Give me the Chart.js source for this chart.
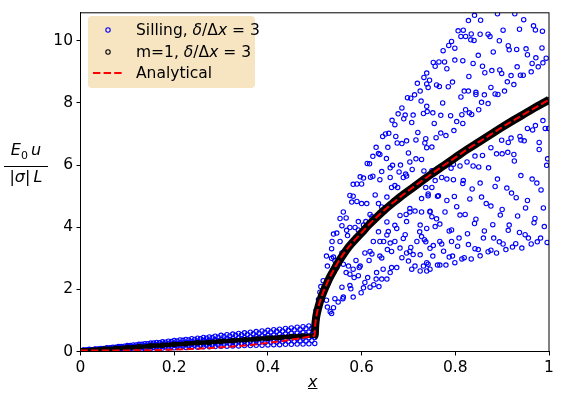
<!DOCTYPE html>
<html>
<head>
<meta charset="utf-8">
<script src="https://cdn.jsdelivr.net/npm/chart.js@4.4.1/dist/chart.umd.min.js"></script>
<style>
  body { margin: 0; background: #fff; }
  #wrap { position: relative; width: 562px; height: 393px; font-family: "DejaVu Sans", sans-serif; }
  #legend {
    position: absolute; left: 88px; top: 16px; width: 167px; height: 72px;
    background: #f7e5c2; border-radius: 4px; font-size: 15.5px; color: #000;
  }
  .row { position: absolute; left: 0; height: 20px; line-height: 20px; white-space: nowrap; }
  .row span.t { position: absolute; left: 48px; top: 0; }
  .row svg { position: absolute; left: 0; top: 0; }
  #ylab { position: absolute; left: 4px; top: 141px; width: 44px; text-align: center; font-size: 16px; }
  #ylab .num { border-bottom: 1px solid #000; padding-bottom: 1px; line-height: 18px; }
  #ylab .den { line-height: 18px; padding-top: 1px; }
  #xlab { position: absolute; left: 308px; top: 372px; font-size: 16px; font-style: italic; text-decoration: underline; }
</style>
</head>
<body>
<div id="wrap">
  <canvas id="plot" width="562" height="393"></canvas>
  <div id="legend">
    <div class="row" style="top:4px;width:167px">
      <svg width="40" height="20"><circle cx="20" cy="10" r="2.2" fill="none" stroke="#0000ff" stroke-width="1.1"/></svg>
      <span class="t">Silling, <i>δ</i>/Δ<i>x</i> = 3</span>
    </div>
    <div class="row" style="top:25.5px;width:167px">
      <svg width="40" height="20"><circle cx="20" cy="10" r="2.2" fill="none" stroke="#000" stroke-width="1.1"/></svg>
      <span class="t">m=1, <i>δ</i>/Δ<i>x</i> = 3</span>
    </div>
    <div class="row" style="top:47px;width:167px">
      <svg width="40" height="20"><line x1="5" y1="10" x2="35" y2="10" stroke="#ff0000" stroke-width="2" stroke-dasharray="7.4 3.2"/></svg>
      <span class="t">Analytical</span>
    </div>
  </div>
  <div id="ylab">
    <div class="num"><i>E</i><sub style="font-size:11px">0</sub>&thinsp;<i>u</i></div>
    <div class="den">|<i>σ</i>|&thinsp;<i>L</i></div>
  </div>
  <div id="xlab">x</div>
</div>
<script>
// Silling, x < 0.5: dense band of nodes, rows
const silLeftX = [0.0125, 0.025, 0.0375, 0.05, 0.0625, 0.075, 0.0875, 0.1, 0.1125, 0.125,
  0.1375, 0.15, 0.1625, 0.175, 0.1875, 0.2, 0.2125, 0.225, 0.2375, 0.25,
  0.2625, 0.275, 0.2875, 0.3, 0.3125, 0.325, 0.3375, 0.35, 0.3625, 0.375,
  0.3875, 0.4, 0.4125, 0.425, 0.4375, 0.45, 0.4625, 0.475, 0.4875, 0.5]
const silLeftUp = [0.04, 0.06, 0.08, 0.10, 0.12, 0.14, 0.16, 0.19, 0.21, 0.23,
  0.25, 0.27, 0.29, 0.31, 0.33, 0.35, 0.37, 0.39, 0.41, 0.43,
  0.45, 0.47, 0.49, 0.52, 0.54, 0.56, 0.58, 0.60, 0.62, 0.64,
  0.66, 0.68, 0.70, 0.72, 0.74, 0.76, 0.78, 0.80, 0.82, 0.85]
const silLeftMidHi = [0.04, 0.05, 0.07, 0.08, 0.10, 0.11, 0.13, 0.15, 0.16, 0.18,
  0.19, 0.21, 0.22, 0.24, 0.25, 0.27, 0.28, 0.30, 0.31, 0.33,
  0.35, 0.36, 0.38, 0.39, 0.41, 0.42, 0.44, 0.45, 0.47, 0.48,
  0.50, 0.52, 0.53, 0.55, 0.56, 0.58, 0.59, 0.61, 0.62, 0.64]
const silLeftMidLo = [0.04, 0.05, 0.06, 0.07, 0.08, 0.09, 0.10, 0.11, 0.12, 0.13,
  0.14, 0.15, 0.16, 0.17, 0.18, 0.20, 0.21, 0.22, 0.23, 0.24,
  0.25, 0.26, 0.27, 0.28, 0.29, 0.30, 0.31, 0.32, 0.33, 0.34,
  0.35, 0.36, 0.37, 0.38, 0.39, 0.41, 0.42, 0.43, 0.44, 0.45]
const silLeftLow = [0.04, 0.04, 0.05, 0.05, 0.06, 0.06, 0.07, 0.08, 0.08, 0.09,
  0.09, 0.10, 0.10, 0.11, 0.11, 0.12, 0.13, 0.13, 0.14, 0.14,
  0.15, 0.15, 0.16, 0.17, 0.17, 0.18, 0.18, 0.19, 0.19, 0.20,
  0.20, 0.21, 0.22, 0.22, 0.23, 0.23, 0.24, 0.24, 0.25, 0.26]
// staggered nodes sitting between the rows above
const silLeftX2 = [0.00625, 0.01875, 0.03125, 0.04375, 0.05625, 0.06875, 0.08125, 0.09375, 0.10625, 0.11875,
  0.13125, 0.14375, 0.15625, 0.16875, 0.18125, 0.19375, 0.20625, 0.21875, 0.23125, 0.24375,
  0.25625, 0.26875, 0.28125, 0.29375, 0.30625, 0.31875, 0.33125, 0.34375, 0.35625, 0.36875,
  0.38125, 0.39375, 0.40625, 0.41875, 0.43125, 0.44375, 0.45625, 0.46875, 0.48125, 0.49375]
const silLeftA = [0.05, 0.07, 0.08, 0.10, 0.12, 0.14, 0.16, 0.17, 0.19, 0.21,
  0.23, 0.25, 0.27, 0.28, 0.30, 0.32, 0.34, 0.36, 0.37, 0.39,
  0.41, 0.43, 0.45, 0.46, 0.48, 0.50, 0.52, 0.54, 0.55, 0.57,
  0.59, 0.61, 0.63, 0.65, 0.66, 0.68, 0.70, 0.72, 0.74, 0.75]
const silLeftB = [0.04, 0.05, 0.07, 0.08, 0.09, 0.11, 0.12, 0.13, 0.15, 0.16,
  0.17, 0.19, 0.20, 0.21, 0.23, 0.24, 0.25, 0.27, 0.28, 0.29,
  0.30, 0.32, 0.33, 0.34, 0.36, 0.37, 0.38, 0.40, 0.41, 0.42,
  0.44, 0.45, 0.46, 0.47, 0.49, 0.50, 0.51, 0.53, 0.54, 0.55]
const silLeftC = [0.04, 0.04, 0.05, 0.06, 0.07, 0.08, 0.08, 0.09, 0.10, 0.11,
  0.12, 0.13, 0.13, 0.14, 0.15, 0.16, 0.17, 0.17, 0.18, 0.19,
  0.20, 0.21, 0.21, 0.22, 0.23, 0.24, 0.25, 0.26, 0.26, 0.27,
  0.28, 0.29, 0.30, 0.30, 0.31, 0.32, 0.33, 0.34, 0.34, 0.35]

// Silling, x > 0.5: scattered nodes
const silRightX = [
  0.739, 0.733, 0.745, 0.719, 0.742, 0.725, 0.713, 0.698, 0.705, 0.727, 0.686, 0.678, 0.693, 0.710, 0.740, 0.732,
  0.690, 0.707, 0.665, 0.671, 0.720, 0.645, 0.651, 0.658, 0.673, 0.737, 0.676, 0.686, 0.696, 0.716, 0.735, 0.631,
  0.656, 0.636, 0.639, 0.624, 0.700, 0.653, 0.716, 0.728, 0.612, 0.617, 0.666, 0.661, 0.683, 0.703, 0.708, 0.643,
  0.680, 0.694, 0.597, 0.604, 0.619, 0.624, 0.689,
  0.841, 0.854, 0.828, 0.890, 0.927, 0.946, 0.806, 0.817, 0.822, 0.812, 0.834, 0.853, 0.870, 0.874, 0.902, 0.937,
  0.967, 0.971, 0.986, 0.792, 0.786, 0.774, 0.799, 0.833, 0.840, 0.894, 0.913, 0.915, 0.931, 0.951, 0.954, 0.985,
  0.849, 0.881, 0.972, 0.994, 0.753, 0.765, 0.777, 0.757, 0.782, 0.799, 0.816, 0.838, 0.858, 0.863, 0.878, 0.895,
  0.899, 0.919, 0.932, 0.939, 0.945, 0.964, 0.977, 0.962, 0.987, 0.739, 0.760, 0.766, 0.794, 0.785, 0.829, 0.819,
  0.844, 0.844, 0.862, 0.856, 0.870, 0.885, 0.891, 0.876, 0.905, 0.911, 0.925, 0.828, 0.812, 0.739, 0.773, 0.752,
  0.769, 0.790, 0.803, 0.814, 0.830, 0.822, 0.835, 0.850, 0.755, 0.816, 0.797, 0.769, 0.780, 0.759, 0.750, 0.739,
  0.899, 0.919, 0.913, 0.940, 0.947, 0.938, 0.954, 0.971, 0.965, 0.987, 0.992, 0.999, 0.979, 0.979, 0.912, 0.900,
  0.888, 0.876, 0.858, 0.842, 0.825, 0.838, 0.850, 0.871, 0.925, 0.926, 0.997, 0.995, 0.796, 0.791, 0.810, 0.750,
  0.733,
  0.771, 0.782, 0.796, 0.817, 0.816, 0.757, 0.750, 0.737, 0.742, 0.728, 0.762, 0.782, 0.798, 0.803, 0.778, 0.746,
  0.750, 0.728, 0.725, 0.757, 0.767, 0.787, 0.792, 0.810, 0.821, 0.831, 0.836, 0.853, 0.856, 0.866, 0.876, 0.890,
  0.885, 0.910, 0.920, 0.930, 0.940, 0.954, 0.964, 0.974, 0.983, 0.950, 0.988, 0.933, 0.896, 0.900, 0.970, 0.968,
  0.990, 0.915, 0.913, 0.880, 0.862, 0.860, 0.844, 0.841, 0.826, 0.808, 0.828, 0.842, 0.849, 0.870, 0.876, 0.888,
  0.882, 0.894, 0.902, 0.908, 0.922, 0.929, 0.937, 0.949, 0.956, 0.942, 0.962, 0.975, 0.982, 0.996, 0.734, 0.737,
  0.753, 0.771, 0.775, 0.787, 0.794, 0.805, 0.819, 0.814, 0.834, 0.853, 0.799, 0.780, 0.767, 0.762, 0.746, 0.739,
  0.732, 0.725, 0.752,
  0.639, 0.661, 0.671, 0.696, 0.600, 0.590, 0.575, 0.582, 0.579, 0.590, 0.600, 0.611, 0.629, 0.636, 0.643, 0.654,
  0.664, 0.677, 0.618, 0.622, 0.609, 0.593, 0.604, 0.586, 0.593, 0.561, 0.567, 0.558, 0.575, 0.570, 0.547, 0.540,
  0.554, 0.536, 0.558, 0.562, 0.540, 0.536, 0.543, 0.527, 0.525, 0.547, 0.540, 0.534, 0.529, 0.518, 0.520, 0.513,
  0.511, 0.508, 0.561, 0.572, 0.588, 0.597, 0.616, 0.607, 0.622, 0.632, 0.646, 0.639, 0.639, 0.657, 0.655, 0.661,
  0.671, 0.693, 0.682, 0.686, 0.696, 0.700, 0.710, 0.705, 0.718, 0.728, 0.696, 0.703, 0.695, 0.714, 0.742, 0.739,
  0.714, 0.707, 0.675, 0.664, 0.661, 0.654, 0.643, 0.631, 0.613, 0.607, 0.593, 0.595, 0.582, 0.575, 0.567, 0.558,
  0.577, 0.575, 0.561, 0.582, 0.599, 0.604, 0.618, 0.626, 0.637, 0.584, 0.543, 0.550, 0.560, 0.540, 0.527, 0.533,
  0.536, 0.525, 0.513, 0.503, 0.504, 0.501,
  0.654, 0.675, 0.689, 0.724, 0.739, 0.746, 0.760, 0.742, 0.764, 0.703, 0.682, 0.671, 0.654, 0.636, 0.647, 0.625,
  0.618, 0.643, 0.664, 0.703, 0.725, 0.746, 0.767, 0.792, 0.582, 0.554, 0.568, 0.537]
const silRightY = [
  8.96, 8.82, 8.73, 8.63, 8.50, 8.38, 8.26, 8.17, 8.15, 8.06, 7.84, 7.65, 7.61, 7.61, 7.72, 7.66,
  7.49, 7.37, 7.44, 7.30, 7.05, 6.92, 7.00, 7.02, 6.92, 6.85, 6.71, 6.69, 6.78, 6.81, 6.71, 6.57,
  6.57, 6.37, 6.34, 6.28, 6.39, 6.21, 6.20, 6.18, 6.05, 6.04, 5.99, 5.91, 6.00, 6.10, 5.86, 5.79,
  5.78, 5.71, 5.62, 5.58, 5.61, 5.64, 5.60,
  10.82, 10.66, 10.65, 10.87, 10.87, 10.68, 10.32, 10.34, 10.14, 10.14, 10.22, 10.21, 10.21, 10.14, 10.34, 10.37,
  10.48, 10.35, 10.31, 9.98, 9.85, 9.68, 9.76, 10.03, 10.01, 10.00, 9.84, 9.71, 9.72, 9.74, 9.55, 9.77,
  9.53, 9.64, 9.45, 9.44, 9.30, 9.32, 9.32, 9.18, 9.10, 9.38, 9.36, 9.27, 9.18, 8.97, 9.04, 9.06,
  8.95, 8.88, 9.16, 8.89, 8.89, 9.27, 9.16, 9.00, 9.29, 8.61, 8.58, 8.53, 8.67, 8.52, 8.85, 8.38,
  8.34, 8.27, 8.26, 8.02, 7.98, 8.29, 8.27, 8.50, 8.38, 8.68, 8.59, 8.38, 8.19, 7.89, 8.00, 7.68,
  7.60, 7.59, 7.40, 7.62, 7.68, 7.78, 7.63, 7.78, 7.34, 7.34, 7.11, 7.03, 6.95, 6.88, 6.58, 6.56,
  6.80, 6.87, 6.73, 6.81, 6.78, 6.92, 7.18, 7.27, 7.13, 7.43, 7.18, 7.18, 6.73, 6.50, 6.41, 6.36,
  6.36, 6.56, 6.31, 6.29, 6.10, 5.97, 5.94, 5.91, 6.34, 6.13, 6.20, 5.99, 6.03, 5.90, 5.97, 5.82,
  5.81,
  5.60, 5.55, 5.53, 5.50, 5.41, 5.50, 5.28, 5.28, 5.07, 4.92, 5.00, 4.86, 4.99, 4.66, 4.49, 4.51,
  4.34, 4.49, 4.07, 4.02, 4.10, 3.88, 3.91, 4.39, 4.41, 4.91, 5.23, 5.42, 4.97, 4.76, 4.68, 5.55,
  5.31, 5.26, 5.10, 4.95, 5.66, 4.86, 5.55, 5.42, 5.20, 4.62, 4.62, 4.36, 4.39, 4.57, 4.28, 4.14,
  4.02, 4.07, 3.90, 4.08, 3.88, 3.65, 4.26, 4.12, 3.79, 3.65, 3.44, 3.31, 3.28, 3.21, 3.26, 3.17,
  3.65, 3.53, 3.46, 3.28, 3.36, 3.47, 3.83, 3.76, 3.65, 3.33, 3.46, 3.53, 3.65, 3.51, 3.60, 3.53,
  3.41, 3.46, 3.23, 3.04, 3.07, 3.39, 3.02, 2.98, 2.98, 3.08, 2.86, 2.78, 2.78, 2.78, 2.65, 2.86,
  2.75, 2.59, 3.07,
  5.53, 5.60, 5.34, 5.65, 5.39, 5.39, 5.02, 5.00, 4.81, 4.83, 4.76, 4.76, 5.04, 4.76, 4.65, 4.97,
  5.28, 5.28, 4.41, 4.34, 4.18, 4.18, 4.07, 3.99, 3.91, 4.49, 4.30, 4.05, 3.99, 3.73, 3.81, 3.78,
  3.54, 3.31, 3.17, 3.17, 3.04, 3.00, 2.93, 2.75, 3.07, 2.70, 2.59, 2.44, 2.22, 2.28, 2.07, 2.09,
  1.91, 1.67, 2.81, 2.75, 2.93, 2.75, 2.93, 3.17, 3.14, 2.54, 2.65, 3.07, 3.54, 3.86, 3.28, 3.49,
  3.54, 3.76, 3.33, 3.02, 3.17, 2.91, 3.12, 3.35, 3.54, 3.70, 4.18, 4.60, 4.41, 4.52, 2.81, 2.59,
  2.75, 2.65, 2.70, 2.70, 2.54, 2.33, 2.33, 2.33, 2.38, 2.22, 2.44, 2.70, 2.65, 2.49, 2.54, 2.07,
  2.02, 2.12, 1.75, 1.75, 1.89, 2.05, 2.07, 2.15, 2.09, 2.38, 1.70, 1.59, 1.70, 1.41, 1.43, 1.28,
  1.22, 1.65, 1.70, 1.33, 1.12, 0.85,
  3.75, 3.96, 3.64, 3.85, 3.96, 4.49, 4.27, 5.01, 5.01, 4.49, 4.38, 4.06, 4.17, 3.85, 3.54, 3.54,
  3.22, 3.01, 3.22, 3.22, 3.11, 3.32, 3.54, 3.54, 5.38, 4.28, 3.90, 3.54]

// m=1 nodes along the solution
const m1X = [0, 0.025, 0.05, 0.075, 0.1, 0.125, 0.15, 0.175, 0.2, 0.225, 0.25, 0.275, 0.3, 0.325, 0.35,
  0.375, 0.4, 0.425, 0.45, 0.475, 0.5,
  0.501, 0.503, 0.506, 0.51, 0.515, 0.52, 0.53, 0.54, 0.55, 0.56, 0.575, 0.59, 0.6, 0.615, 0.63, 0.65,
  0.67, 0.69, 0.71, 0.73, 0.75, 0.775, 0.8, 0.825, 0.85, 0.875, 0.9, 0.925, 0.95, 0.975, 1.0]
const m1Y = [0.03, 0.05, 0.08, 0.1, 0.13, 0.15, 0.18, 0.2, 0.23, 0.25, 0.28, 0.3, 0.33, 0.35, 0.38,
  0.4, 0.43, 0.45, 0.48, 0.5, 0.52,
  0.82, 1.1, 1.32, 1.55, 1.78, 1.97, 2.32, 2.6, 2.87, 3.1, 3.41, 3.66, 3.82, 4.07, 4.29, 4.57,
  4.82, 5.06, 5.28, 5.5, 5.72, 5.98, 6.24, 6.5, 6.74, 6.98, 7.22, 7.45, 7.67, 7.89, 8.1]

// analytical solution
const anaX = [0, 0.5, 0.5005, 0.502, 0.505, 0.51, 0.518, 0.53, 0.547, 0.565, 0.582, 0.6, 0.618, 0.654,
  0.689, 0.725, 0.76, 0.796, 0.831, 0.867, 0.9, 0.938, 0.97, 1.0]
const anaY = [0.03, 0.51, 0.74, 0.98, 1.25, 1.55, 1.9, 2.32, 2.8, 3.22, 3.53, 3.82, 4.12, 4.62,
  5.05, 5.45, 5.83, 6.2, 6.56, 6.9, 7.22, 7.56, 7.84, 8.1]

const xTicks = [0, 0.2, 0.4, 0.6, 0.8, 1]
const yTicks = [0, 2, 4, 6, 8, 10]

const zip = (xs, ys) => xs.map((x, i) => ({ x: x, y: ys[i] }))

let sillingPts = []
;[silLeftUp, silLeftMidHi, silLeftMidLo, silLeftLow].forEach(row => {
  sillingPts = sillingPts.concat(zip(silLeftX, row))
})
;[silLeftA, silLeftB, silLeftC].forEach(row => {
  sillingPts = sillingPts.concat(zip(silLeftX2, row))
})
sillingPts = sillingPts.concat(zip(silRightX, silRightY))

const frame = {
  id: 'frame',
  afterDraw(chart) {
    const a = chart.chartArea
    const c = chart.ctx
    c.save()
    c.strokeStyle = '#000'
    c.lineWidth = 1
    c.strokeRect(a.left, a.top, a.right - a.left, a.bottom - a.top)
    c.restore()
  }
}

const tickFont = { family: 'DejaVu Sans', size: 15.5 }

new Chart(document.getElementById('plot'), {
  type: 'scatter',
  data: {
    datasets: [
      {
        label: 'Analytical',
        data: zip(anaX, anaY),
        showLine: true,
        borderColor: '#ff0000',
        borderWidth: 2,
        borderDash: [7.4, 3.2],
        pointRadius: 0,
        cubicInterpolationMode: 'monotone',
        order: 0,
      },
      {
        label: 'm=1',
        data: zip(m1X, m1Y),
        showLine: true,
        borderColor: '#000',
        backgroundColor: 'rgba(0,0,0,0)',
        segment: {
          borderWidth: (ctx) => ctx.p0.parsed.x < 0.5 ? 4.5 : 8,
        },
        pointRadius: 2.2,
        pointBorderWidth: 1.2,
        pointBorderColor: '#000',
        cubicInterpolationMode: 'monotone',
        order: 1,
      },
      {
        label: 'Silling',
        data: sillingPts,
        borderColor: '#0000ff',
        backgroundColor: 'rgba(0,0,0,0)',
        pointRadius: 2.2,
        pointBorderWidth: 1.1,
        order: 2,
      },
    ],
  },
  options: {
    responsive: false,
    animation: false,
    devicePixelRatio: 1,
    layout: { padding: { top: 8, right: 13, left: 0, bottom: 0 } },
    plugins: { legend: { display: false }, tooltip: { enabled: false } },
    scales: {
      x: {
        type: 'linear',
        min: 0,
        max: 1,
        afterFit: (s) => { s.height = 41.5 },
        afterBuildTicks: (s) => { s.ticks = xTicks.map(v => ({ value: v })) },
        grid: { drawOnChartArea: false, drawTicks: true, tickLength: 4, color: '#000' },
        border: { display: true, color: '#000', width: 1 },
        ticks: {
          font: tickFont,
          color: '#000',
          padding: 3,
          maxRotation: 0,
          callback: (v) => String(+v.toFixed(1)),
        },
      },
      y: {
        type: 'linear',
        min: 0,
        max: 10.9,
        afterFit: (s) => { s.width = 80.5 },
        afterBuildTicks: (s) => { s.ticks = yTicks.map(v => ({ value: v })) },
        grid: { drawOnChartArea: false, drawTicks: true, tickLength: 4, color: '#000' },
        border: { display: true, color: '#000', width: 1 },
        ticks: { font: tickFont, color: '#000', padding: 3.5 },
      },
    },
  },
  plugins: [frame],
})
</script>
</body>
</html>
